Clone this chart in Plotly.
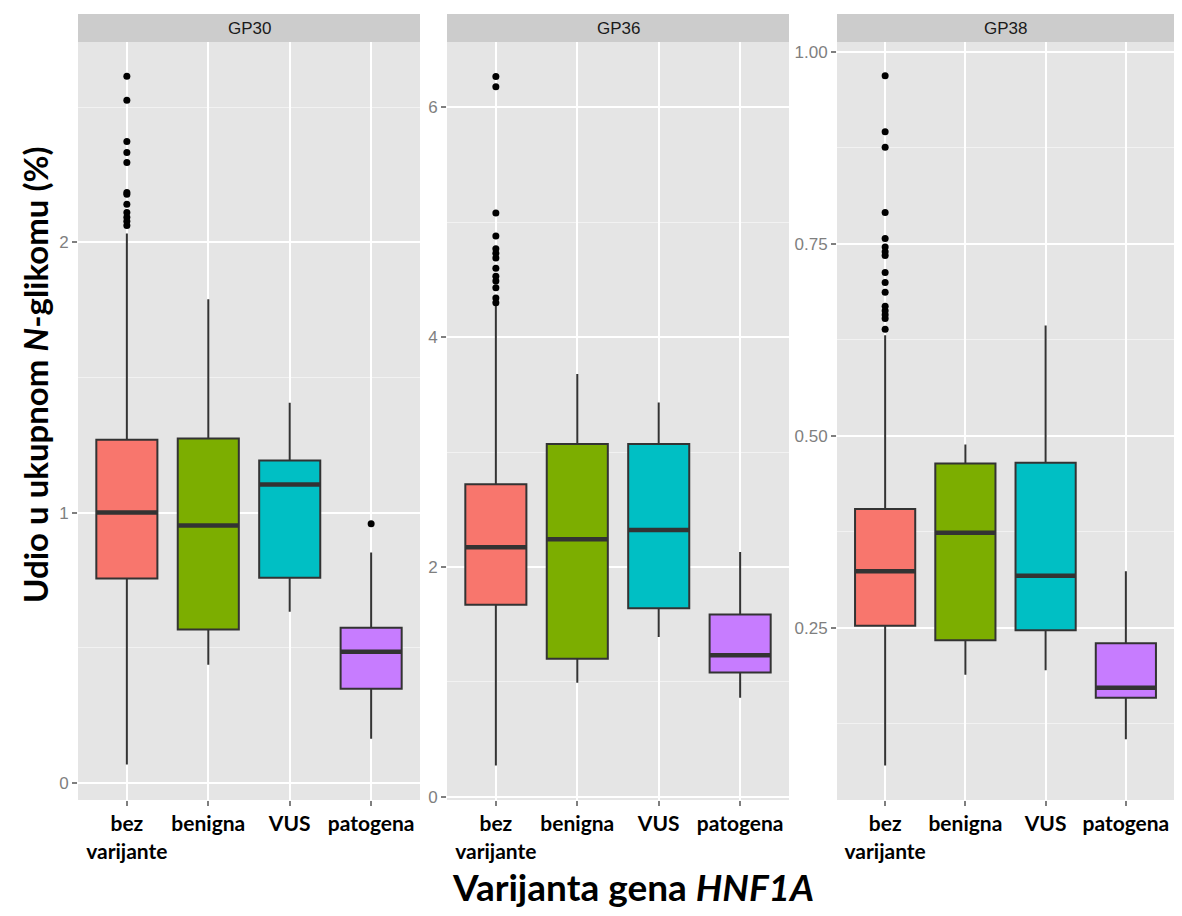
import plotly.graph_objects as go
from plotly.subplots import make_subplots

# ---------------- data ----------------
categories = ["bez varijante", "benigna", "VUS", "patogena"]
tick_labels = ["bez<br>varijante", "benigna", "VUS", "patogena"]
panels = ["GP30", "GP36", "GP38"]

gp30_q1 = [0.756, 0.567, 0.759, 0.348]
gp30_median = [1.0, 0.952, 1.104, 0.485]
gp30_q3 = [1.27, 1.274, 1.193, 0.574]
gp30_lower = [0.067, 0.437, 0.633, 0.163]
gp30_upper = [2.033, 1.79, 1.407, 0.852]
gp30_out_bez = [2.615, 2.526, 2.374, 2.333, 2.296, 2.185, 2.178, 2.141,
                2.111, 2.093, 2.078, 2.063]
gp30_out_patogena = [0.959]

gp36_q1 = [1.67, 1.20, 1.64, 1.08]
gp36_median = [2.17, 2.24, 2.32, 1.23]
gp36_q3 = [2.72, 3.07, 3.07, 1.585]
gp36_lower = [0.27, 0.99, 1.39, 0.86]
gp36_upper = [4.28, 3.68, 3.43, 2.13]
gp36_out_bez = [6.27, 6.18, 5.08, 4.88, 4.77, 4.73, 4.69, 4.60, 4.53,
                4.49, 4.43, 4.34, 4.30]

gp38_q1 = [0.253, 0.234, 0.247, 0.159]
gp38_median = [0.324, 0.374, 0.318, 0.172]
gp38_q3 = [0.405, 0.464, 0.465, 0.230]
gp38_lower = [0.071, 0.189, 0.195, 0.105]
gp38_upper = [0.631, 0.489, 0.644, 0.324]
gp38_out_bez = [0.969, 0.896, 0.876, 0.791, 0.757, 0.746, 0.740, 0.735,
                0.713, 0.700, 0.687, 0.669, 0.663, 0.658, 0.653, 0.639]

y_ranges = [[-0.064, 2.742], [-0.03, 6.57], [0.026, 1.013]]
y_major = [[0, 1, 2], [0, 2, 4, 6], [0.25, 0.5, 0.75, 1.0]]
y_major_text = [["0", "1", "2"], ["0", "2", "4", "6"], ["0.25", "0.50", "0.75", "1.00"]]
y_minor = [0.5, 1.0, 0.125]

# ---------------- styles ----------------
colors = ["#F8766D", "#7CAE00", "#00BFC4", "#C77CFF"]
box_line = "#333333"
panel_bg = "#e5e5e5"
strip_bg = "#cccccc"
grey_txt = "#7f7f7f"
box_width = 0.75

panel_data = [
    (gp30_q1, gp30_median, gp30_q3, gp30_lower, gp30_upper,
     {0: gp30_out_bez, 3: gp30_out_patogena}),
    (gp36_q1, gp36_median, gp36_q3, gp36_lower, gp36_upper, {0: gp36_out_bez}),
    (gp38_q1, gp38_median, gp38_q3, gp38_lower, gp38_upper, {0: gp38_out_bez}),
]

fig = make_subplots(rows=1, cols=3)

for p, (q1, med, q3, lo, hi, outs) in enumerate(panel_data):
    col = p + 1
    for i in range(len(categories)):
        fig.add_trace(go.Box(
            x=[i], q1=[q1[i]], median=[med[i]], q3=[q3[i]],
            lowerfence=[lo[i]], upperfence=[hi[i]],
            fillcolor=colors[i], line=dict(color=box_line, width=2),
            width=box_width, whiskerwidth=0, boxpoints=False,
            name=categories[i], showlegend=False, hoverinfo="skip"),
            row=1, col=col)
    # thicker median lines (ggplot style)
    mx, my = [], []
    for i in range(len(categories)):
        mx += [i - box_width / 2, i + box_width / 2, None]
        my += [med[i], med[i], None]
    fig.add_trace(go.Scatter(x=mx, y=my, mode="lines",
                             line=dict(color=box_line, width=4.5),
                             showlegend=False, hoverinfo="skip"),
                  row=1, col=col)
    for i, vals in outs.items():
        fig.add_trace(go.Scatter(x=[i] * len(vals), y=vals, mode="markers",
                                 marker=dict(color="black", size=7),
                                 showlegend=False, hoverinfo="skip"),
                      row=1, col=col)

# page has an 8px body margin -> figure 1166x900 fills the 1182x916 window
W, H = 1166, 900
ml, mr, mt, mb = 70, 0, 34, 108
pw = W - ml - mr
ph = H - mt - mb
domains = [(0, 342 / pw), (369 / pw, 711 / pw), (759 / pw, 1.0)]

for p in range(3):
    col = p + 1
    fig.update_xaxes(
        domain=list(domains[p]), range=[-0.6, 3.6],
        tickmode="array", tickvals=list(range(len(categories))), ticktext=tick_labels,
        showgrid=True, gridcolor="white", gridwidth=2,
        ticks="outside", ticklen=5, tickwidth=1.5, tickcolor=grey_txt,
        tickfont=dict(family="Lato, Open Sans, sans-serif", size=21, color="black", weight="bold"),
        zeroline=False, showline=False,
        row=1, col=col)
    fig.update_yaxes(
        range=y_ranges[p], tickmode="array", tickvals=y_major[p], ticktext=y_major_text[p],
        showgrid=True, gridcolor="white", gridwidth=2,
        minor=dict(showgrid=True, gridcolor="#f2f2f2", gridwidth=1,
                   tick0=0, dtick=y_minor[p], ticks=""),
        ticks="outside", ticklen=5, tickwidth=1.5, tickcolor=grey_txt,
        tickfont=dict(family="Liberation Sans, Arial, sans-serif", size=17, color=grey_txt),
        zeroline=False, showline=False,
        row=1, col=col)

shapes = []
annotations = []
strip_h = 28 / ph
for p in range(3):
    sfx = "" if p == 0 else str(p + 1)
    shapes.append(dict(type="rect", xref=f"x{sfx} domain", yref=f"y{sfx} domain",
                       x0=0, x1=1, y0=1, y1=1 + strip_h,
                       fillcolor=strip_bg, line=dict(width=0), layer="below"))
    annotations.append(dict(text=panels[p], xref=f"x{sfx} domain", yref=f"y{sfx} domain",
                            x=0.5, y=1 + strip_h / 2, showarrow=False,
                            xanchor="center", yanchor="middle",
                            font=dict(family="Liberation Sans, Arial, sans-serif",
                                      size=17, color="#1a1a1a")))

annotations.append(dict(text="Udio u ukupnom <i>N</i>-glikomu (%)",
                        xref="paper", yref="paper", x=(27 - ml) / pw, y=(H - mb - 367) / ph,
                        textangle=-90, showarrow=False, xanchor="center", yanchor="middle",
                        font=dict(family="Lato, Open Sans, sans-serif", size=33,
                                  color="black", weight="bold")))
annotations.append(dict(text="Varijanta gena <i>HNF1A</i>",
                        xref="paper", yref="paper", x=(625 - ml) / pw, y=(H - mb - 878) / ph,
                        showarrow=False, xanchor="center", yanchor="middle",
                        font=dict(family="Lato, Open Sans, sans-serif", size=37,
                                  color="black", weight="bold")))

fig.update_layout(
    width=W, height=H,
    margin=dict(l=ml, r=mr, t=mt, b=mb),
    paper_bgcolor="white", plot_bgcolor=panel_bg,
    boxmode="overlay", showlegend=False,
    shapes=shapes, annotations=annotations,
)

fig.write_html("out.html")
